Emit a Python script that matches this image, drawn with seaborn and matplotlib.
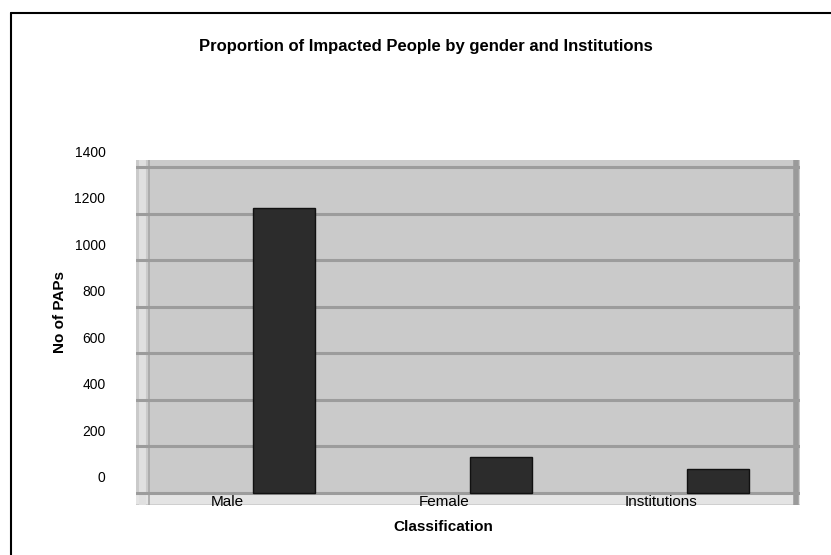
import numpy as np
import pandas as pd
import seaborn as sb
import matplotlib.pyplot as plt
import matplotlib.transforms as mtransforms
from matplotlib.lines import Line2D

# data (floor of the 3D plot area taken as 0)
categories = ['Male', 'Female', 'Institutions']
paps = [1225, 155, 103]
yticks = [0, 200, 400, 600, 800, 1000, 1200, 1400]

title = 'Proportion of Impacted People by gender and Institutions'
xlb = 'Classification'
ylb = 'No of PAPs'


def barplot():
    sb.set_style('white')
    plt.rcParams['font.family'] = ['Liberation Sans', 'DejaVu Sans']
    plt.rcParams['text.color'] = 'black'
    plt.rcParams['xtick.color'] = 'black'
    plt.rcParams['ytick.color'] = 'black'

    fig = plt.figure(figsize=(8.31, 5.55), dpi=100)
    ax = fig.add_axes([136/831, 1 - 505/555, 664/831, 345/555])

    df = pd.DataFrame({'cls': categories, 'value': paps})

    ax.set_facecolor('#cacaca')

    # floor band and side walls of the old 3D chart
    ax.axhspan(-43, -9, color='#e4e4e4', zorder=0)
    ax.axvline(-0.655, color='#e0e0e0', lw=5, zorder=0)
    ax.axvline(-0.62, color='#a8a8a8', lw=1.2, zorder=0)
    ax.axvline(2.36, color='#9a9a9a', lw=4, zorder=0)

    ax.set_yticks(yticks)
    ax.yaxis.grid(True, color='#9c9c9c', linewidth=2.2)
    ax.set_axisbelow(True)

    sb.barplot(data=df, x='cls', y='value', color='#2c2c2c', width=0.286,
               edgecolor='#111111', linewidth=1, saturation=1, ax=ax)

    ax.set_xlim(-0.682, 2.378)
    ax.set_ylim(-52, 1432)
    ax.set_xlabel('')
    ax.set_ylabel('')

    for sp in ax.spines.values():
        sp.set_visible(False)

    ax.tick_params(axis='y', length=0, pad=22, labelsize=10, labelcolor='black')
    ax.tick_params(axis='x', length=0, pad=0, labelsize=11, labelcolor='black')

    # shift tick labels like the offset 3D axes in the scan
    yoff = mtransforms.ScaledTranslation(0, 0.16, fig.dpi_scale_trans)
    for lb in ax.get_yticklabels():
        lb.set_transform(lb.get_transform() + yoff)
    xoff = mtransforms.ScaledTranslation(-0.57, 0.095, fig.dpi_scale_trans)
    for lb in ax.get_xticklabels():
        lb.set_transform(lb.get_transform() + xoff)

    fig.text(426/831, 1 - 47/555, title, ha='center', va='center',
             fontsize=12, fontweight='bold', color='black')
    fig.text(443/831, 1 - 527/555, xlb, ha='center', va='center',
             fontsize=11, fontweight='bold', color='black')
    fig.text(60/831, 1 - 312/555, ylb, ha='center', va='center',
             fontsize=11, fontweight='bold', rotation=90, color='black')

    # page frame lines
    fig.add_artist(Line2D([11/831, 1], [1 - 13/555, 1 - 13/555],
                          color='black', lw=1.5))
    fig.add_artist(Line2D([11/831, 11/831], [0, 1 - 13/555],
                          color='black', lw=1.5))

    plt.savefig('out.png', dpi=100)


if __name__ == "__main__":
    barplot()
